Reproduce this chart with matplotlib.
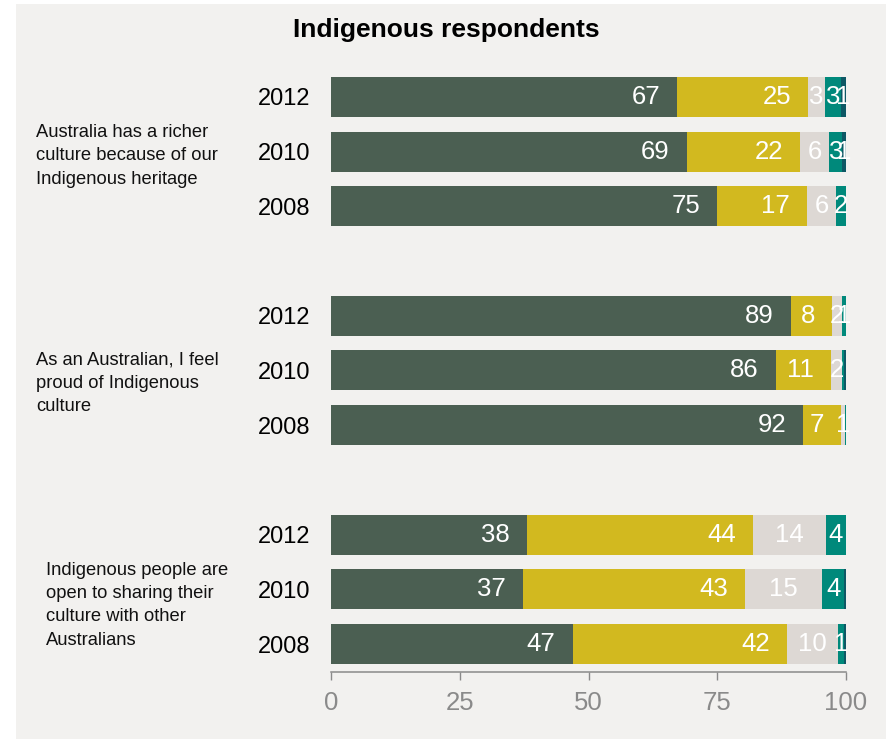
import matplotlib
matplotlib.use('Agg')
import matplotlib.pyplot as plt
import matplotlib.transforms as mtransforms
from matplotlib.patches import Rectangle
import numpy as np

plt.rcParams['font.family'] = ['Liberation Sans', 'DejaVu Sans']

# Survey data (percent of respondents)
questions = ['Australia has a richer\nculture because of our\nIndigenous heritage',
             'As an Australian, I feel\nproud of Indigenous\nculture',
             'Indigenous people are\nopen to sharing their\nculture with other\nAustralians']
years = ['2012', '2010', '2008']

strongly_agree    = [67.2, 69.1, 75.0,   89.3, 86.4, 91.7,   38.1, 37.3, 46.9]
agree             = [25.4, 22.0, 17.4,    8.0, 10.7,  7.3,   43.9, 43.1, 41.7]
neutral           = [ 3.3,  5.6,  5.7,    2.0,  2.2,  0.8,   14.1, 15.0,  9.9]
disagree          = [ 3.1,  2.6,  1.9,    0.7,  0.3,  0.2,    3.9,  4.2,  1.1]
strongly_disagree = [ 1.0,  0.7,  0.0,    0.0,  0.4,  0.0,    0.0,  0.4,  0.4]

# Colours for each answer, and whether its label hugs the right end or sits in the centre
series = [(strongly_agree,    '#4B5F52', 'right'),
          (agree,             '#D2B91F', 'right'),
          (neutral,           '#DDD8D4', 'center'),
          (disagree,          '#00897B', 'center'),
          (strongly_disagree, '#0E5865', 'center')]

# Row positions: three bars per question, one empty slot between questions
rows = []
for q in range(len(questions)):
    rows += [q * 4 + i for i in range(len(years))]
rows = np.array(rows)

fig = plt.figure(figsize=(8.93, 7.39), dpi=100, facecolor='white')

# Light panel behind everything
fig.patches.append(Rectangle((16 / 893, 0), 870 / 893, 735 / 739, transform=fig.transFigure,
                             facecolor='#F2F1EF', edgecolor='none', zorder=-10))

ax = fig.add_axes([331 / 893, 1 - 672 / 739, 515 / 893, 608 / 739])
ax.set_facecolor('none')

left = np.zeros(len(rows))
for values, colour, align in series:
    values = np.array(values)
    ax.barh(rows, values, left=left, height=0.73, color=colour, edgecolor='none')
    for y, l, v in zip(rows, left, values):
        if round(v) < 1:
            continue
        if align == 'right':
            ax.text(l + v - 3.3, y, f'{round(v)}', ha='right', va='center',
                    color='white', fontsize=18.5)
        else:
            ax.text(l + v / 2, y, f'{round(v)}', ha='center', va='center',
                    color='white', fontsize=18.5)
    left += values

ax.set_xlim(0, 100)
ax.set_ylim(rows.max() + 0.51, -0.6)

# Axis styling
for side in ['top', 'right', 'left']:
    ax.spines[side].set_visible(False)
ax.spines['bottom'].set_color('#8A8A8A')
ax.spines['bottom'].set_linewidth(1.1)
ax.set_xticks([0, 25, 50, 75, 100])
ax.tick_params(axis='x', colors='#8A8A8A', labelsize=18.5, length=5.5, width=1.0, pad=8)
ax.set_yticks(rows)
ax.set_yticklabels(years * len(questions))
ax.tick_params(axis='y', length=0, labelsize=17, pad=15)

# Question texts on the left
trans = mtransforms.blended_transform_factory(fig.transFigure, ax.transData)
q_x = [36 / 893, 36 / 893, 46 / 893]
q_y = [1.08, 5.23, 9.29]
for text, x, y in zip(questions, q_x, q_y):
    ax.text(x, y, text, transform=trans, ha='left', va='center', fontsize=13.2,
            linespacing=1.48, color='#111111')

fig.text(0.5, 1 - 30 / 739, 'Indigenous respondents', ha='center', va='center',
         fontsize=19, fontweight='bold')

fig.savefig('out.png', dpi=100, facecolor=fig.get_facecolor())
